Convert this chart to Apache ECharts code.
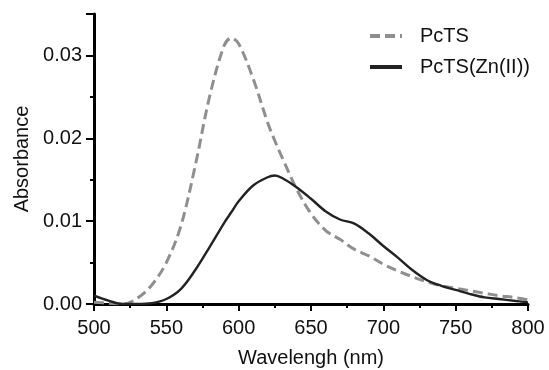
<!DOCTYPE html>
<html>
<head>
<meta charset="utf-8">
<script src="https://cdn.jsdelivr.net/npm/echarts@6/dist/echarts.min.js"></script>
<style>
  html, body { margin: 0; padding: 0; background: #fff; }
  #chart { width: 549px; height: 370px; }
</style>
</head>
<body>
<div id="chart"></div>
<script>
// wavelengths (nm) shared by both spectra
const wavelengths = [500, 510, 520, 530, 540, 550, 560, 570, 580, 590, 595, 600, 610, 620, 625, 630,
  640, 650, 660, 670, 680, 690, 700, 710, 720, 730, 740, 750, 760, 770, 780, 790, 800];
// PcTS, dashed grey
const pcts = [0.0002, 0.0001, 0.0000, 0.0007, 0.0023, 0.0050, 0.0094, 0.0167, 0.0251, 0.0312, 0.0321, 0.0314,
  0.0272, 0.0219, 0.0197, 0.0177, 0.0139, 0.0109, 0.0089, 0.0078, 0.0066, 0.0058, 0.0048, 0.0040,
  0.0033, 0.0027, 0.0022, 0.0019, 0.0016, 0.0013, 0.0010, 0.0008, 0.0005];
// PcTS(Zn(II)), solid dark
const pctsZn = [0.0010, 0.0004, 0.0000, 0.0000, 0.0001, 0.0006, 0.0018, 0.0041, 0.0069, 0.0098, 0.0111, 0.0124,
  0.0143, 0.0153, 0.0155, 0.0152, 0.0141, 0.0127, 0.0112, 0.0102, 0.0097, 0.0085, 0.0070, 0.0056,
  0.0041, 0.0029, 0.0022, 0.0017, 0.0012, 0.0008, 0.0006, 0.0004, 0.0002];

const seriesNames = ['PcTS', 'PcTS(Zn(II))'];
const yTicks = [0, 0.01, 0.02, 0.03];

const font = 'Liberation Sans, Arial, sans-serif';
const pairs = (ys) => wavelengths.map((x, i) => [x, ys[i]]);

const chart = echarts.init(document.getElementById('chart'), null, { renderer: 'canvas' });

chart.setOption({
  animation: false,
  textStyle: { fontFamily: font },
  // fixed plot box, no auto shrinking for labels
  grid: { left: 94, right: 21, top: 14, bottom: 66, containLabel: false, outerBoundsMode: 'none' },
  legend: {
    orient: 'vertical',
    left: 363,
    top: 21,
    itemWidth: 32,
    itemHeight: 14,
    itemGap: 11,
    itemStyle: { opacity: 0 },
    lineStyle: { width: 4 },
    textStyle: { fontSize: 20, color: '#111', fontFamily: font, padding: [0, 0, 0, 13] },
    data: seriesNames
  },
  xAxis: {
    type: 'value',
    min: 500,
    max: 800,
    interval: 50,
    name: 'Wavelengh (nm)',
    nameLocation: 'middle',
    nameGap: 44,
    nameTextStyle: { fontSize: 20, color: '#111' },
    axisLine: { onZero: false, lineStyle: { color: '#000', width: 3 } },
    axisTick: { show: true, length: 7, lineStyle: { color: '#000', width: 2 } },
    minorTick: { show: true, splitNumber: 2, length: 4, lineStyle: { color: '#000', width: 2 } },
    axisLabel: { fontSize: 20, color: '#111', margin: 14 },
    splitLine: { show: false }
  },
  yAxis: {
    type: 'value',
    min: 0,
    max: 0.035,
    interval: 0.01,
    name: 'Absorbance',
    nameLocation: 'middle',
    nameGap: 60,
    nameTextStyle: { fontSize: 20, color: '#111' },
    axisLine: { show: true, lineStyle: { color: '#000', width: 3 } },
    axisTick: { show: true, length: 8, lineStyle: { color: '#000', width: 2 } },
    minorTick: { show: true, splitNumber: 2, length: 4, lineStyle: { color: '#000', width: 2 } },
    axisLabel: {
      fontSize: 20, color: '#111', margin: 12,
      formatter: (v) => yTicks.some(t => Math.abs(t - v) < 1e-9) ? v.toFixed(2) : ''
    },
    splitLine: { show: false }
  },
  series: [
    {
      name: seriesNames[0],
      type: 'line',
      data: pairs(pcts),
      smooth: 0.35,
      symbol: 'none',
      z: 2,
      lineStyle: { color: '#8f8f8f', width: 3, type: [10, 5] },
      itemStyle: { color: '#8f8f8f' }
    },
    {
      name: seriesNames[1],
      type: 'line',
      data: pairs(pctsZn),
      smooth: 0.35,
      symbol: 'none',
      z: 3,
      lineStyle: { color: '#222', width: 2.4 },
      itemStyle: { color: '#222' }
    }
  ]
});
</script>
</body>
</html>
